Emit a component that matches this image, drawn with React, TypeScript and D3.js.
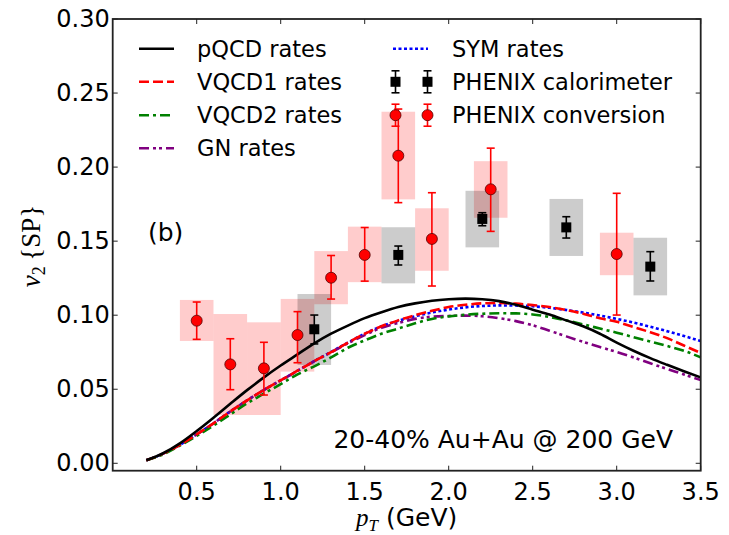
import React from "react";
import * as d3 from "d3";

// ---------- data ----------
const curveX = [0.2, 0.3, 0.4, 0.5, 0.6, 0.7, 0.8, 0.9, 1.0, 1.1, 1.2, 1.3, 1.4, 1.5, 1.6, 1.7, 1.8, 1.9, 2.0, 2.1, 2.2, 2.3, 2.4, 2.5, 2.6, 2.7, 2.8, 2.9, 3.0, 3.1, 3.2, 3.3, 3.4, 3.5];
const pqcd = [0.002, 0.0068, 0.0135, 0.0218, 0.0308, 0.0402, 0.0494, 0.058, 0.066, 0.0735, 0.081, 0.0875, 0.093, 0.098, 0.102, 0.1055, 0.108, 0.1098, 0.1108, 0.1112, 0.1108, 0.1095, 0.107, 0.1037, 0.1005, 0.0965, 0.0925, 0.0875, 0.0815, 0.076, 0.071, 0.0665, 0.0622, 0.058];
const vqcd1 = [0.002, 0.0065, 0.0125, 0.0195, 0.027, 0.035, 0.0425, 0.0495, 0.056, 0.0625, 0.069, 0.075, 0.0815, 0.0875, 0.0925, 0.0965, 0.1, 0.103, 0.1055, 0.107, 0.108, 0.1083, 0.1078, 0.1068, 0.1055, 0.1035, 0.101, 0.098, 0.0955, 0.092, 0.0885, 0.0845, 0.0795, 0.0745];
const vqcd2 = [0.002, 0.006, 0.012, 0.0185, 0.0255, 0.033, 0.0405, 0.047, 0.0535, 0.06, 0.0655, 0.0715, 0.078, 0.083, 0.0875, 0.091, 0.0945, 0.0975, 0.0992, 0.1003, 0.101, 0.1013, 0.1012, 0.1005, 0.0988, 0.0965, 0.0938, 0.091, 0.0882, 0.0852, 0.0822, 0.0792, 0.076, 0.0715];
const gn = [0.002, 0.0065, 0.0125, 0.0195, 0.027, 0.035, 0.0425, 0.0495, 0.056, 0.0625, 0.069, 0.075, 0.081, 0.0865, 0.0915, 0.0948, 0.0975, 0.099, 0.0995, 0.0997, 0.0993, 0.098, 0.096, 0.0932, 0.0895, 0.0857, 0.082, 0.0785, 0.0752, 0.0715, 0.0675, 0.0637, 0.06, 0.0562];
const sym = [0.002, 0.0065, 0.0125, 0.0195, 0.027, 0.035, 0.0425, 0.0495, 0.056, 0.0625, 0.069, 0.0752, 0.0815, 0.0875, 0.0925, 0.0962, 0.0993, 0.1018, 0.1038, 0.1053, 0.1062, 0.1066, 0.1065, 0.106, 0.105, 0.1035, 0.1018, 0.0998, 0.0975, 0.095, 0.0922, 0.0892, 0.086, 0.0825];

const convX = [0.5, 0.7, 0.9, 1.1, 1.3, 1.5, 1.7, 1.9, 2.25, 3.0];
const convY = [0.0963, 0.0668, 0.0641, 0.0866, 0.1253, 0.1407, 0.2077, 0.1515, 0.185, 0.1413];
const convErrLo = [0.0837, 0.0497, 0.0461, 0.0679, 0.1109, 0.123, 0.176, 0.1197, 0.1566, 0.1001];
const convErrHi = [0.1089, 0.0841, 0.0817, 0.1024, 0.1403, 0.1592, 0.2392, 0.1827, 0.2128, 0.1823];
const convSysLo = [0.0826, 0.0326, 0.0326, 0.0619, 0.1074, 0.1223, 0.1782, 0.13, 0.1658, 0.127];
const convSysHi = [0.1103, 0.1008, 0.0952, 0.111, 0.1433, 0.1598, 0.2374, 0.1722, 0.204, 0.1557];

const calX = [1.2, 1.7, 2.2, 2.7, 3.2];
const calY = [0.0905, 0.1407, 0.165, 0.1593, 0.1328];
const calErrLo = [0.0806, 0.1339, 0.1604, 0.1521, 0.1231];
const calErrHi = [0.1001, 0.1467, 0.1692, 0.1665, 0.1429];
const calSysLo = [0.0664, 0.1215, 0.1458, 0.14, 0.1134];
const calSysHi = [0.1143, 0.1594, 0.184, 0.1785, 0.1523];

const xTicks = [0.5, 1.0, 1.5, 2.0, 2.5, 3.0, 3.5];
const yTicks = [0.0, 0.05, 0.1, 0.15, 0.2, 0.25, 0.3];

const curveNames = ["pQCD rates", "VQCD1 rates", "VQCD2 rates", "GN rates", "SYM rates"];
const curveColors = ["#000000", "#ff0000", "#008000", "#800080", "#0000ff"];
const curveDash = ["", "10,4", "10,4,3,4", "10,4,3,3,3,4", "3,2.5"];
const curveData = [pqcd, vqcd1, vqcd2, gn, sym];

const SYS_HALF = 0.1;

// ---------- layout ----------
const W = 729, H = 535;
const L = 112.7, R = 700.7, T = 19, B = 470.7;
const FONT = "DejaVu Sans, Verdana, sans-serif";
const SERIF = "Liberation Serif, DejaVu Serif, serif";

export default function App() {
  const x = d3.scaleLinear().domain([0, 3.5]).range([L, R]);
  const y = d3.scaleLinear().domain([-0.005, 0.3]).range([B, T]);

  const line = d3
    .line<number>()
    .x((_, i) => x(curveX[i]))
    .y((d) => y(d))
    .curve(d3.curveMonotoneX);

  const cap = 4;

  const errbar = (xv: number, lo: number, hi: number, color: string, key: string) => (
    <g key={key} stroke={color} strokeWidth={1.6}>
      <line x1={x(xv)} x2={x(xv)} y1={y(lo)} y2={y(hi)} />
      <line x1={x(xv) - cap} x2={x(xv) + cap} y1={y(lo)} y2={y(lo)} />
      <line x1={x(xv) - cap} x2={x(xv) + cap} y1={y(hi)} y2={y(hi)} />
    </g>
  );

  // legend positions
  const rowY = [48.7, 81.8, 115.2, 148.2];
  const legFont = 22.5;

  const legendLine = (i: number, lx: number, ly: number) => (
    <line
      x1={lx}
      x2={lx + 35}
      y1={ly}
      y2={ly}
      stroke={curveColors[i]}
      strokeWidth={2.6}
      strokeDasharray={curveDash[i] || undefined}
    />
  );

  const legMarkX = [395.5, 427.5];

  return (
    <svg width={W} height={H} style={{ position: "absolute", left: 0, top: 0, background: "#fff" }}>
      {/* systematic boxes */}
      {convX.map((xv, i) => (
        <rect
          key={"cb" + i}
          x={x(xv - SYS_HALF)}
          width={x(xv + SYS_HALF) - x(xv - SYS_HALF)}
          y={y(convSysHi[i])}
          height={y(convSysLo[i]) - y(convSysHi[i])}
          fill="#ff0000"
          fillOpacity={0.2}
        />
      ))}
      {calX.map((xv, i) => (
        <rect
          key={"kb" + i}
          x={x(xv - SYS_HALF)}
          width={x(xv + SYS_HALF) - x(xv - SYS_HALF)}
          y={y(calSysHi[i])}
          height={y(calSysLo[i]) - y(calSysHi[i])}
          fill="#000000"
          fillOpacity={0.2}
        />
      ))}

      {/* curves */}
      {[4, 3, 2, 1, 0].map((i) => (
        <path
          key={"c" + i}
          d={line(curveData[i]) || ""}
          fill="none"
          stroke={curveColors[i]}
          strokeWidth={2.6}
          strokeDasharray={curveDash[i] || undefined}
        />
      ))}

      {/* calorimeter points */}
      {calX.map((xv, i) => errbar(xv, calErrLo[i], calErrHi[i], "#000", "ke" + i))}
      {calX.map((xv, i) => (
        <rect key={"km" + i} x={x(xv) - 5} y={y(calY[i]) - 5} width={10} height={10} fill="#000" />
      ))}

      {/* conversion points */}
      {convX.map((xv, i) => errbar(xv, convErrLo[i], convErrHi[i], "#ff0000", "ce" + i))}
      {convX.map((xv, i) => (
        <circle key={"cm" + i} cx={x(xv)} cy={y(convY[i])} r={5.5} fill="#ff0000" stroke="#550000" strokeWidth={0.8} />
      ))}

      {/* frame */}
      <rect x={L} y={T} width={R - L} height={B - T} fill="none" stroke="#222" strokeWidth={1.8} />

      {/* ticks */}
      {xTicks.map((t) => (
        <g key={"xt" + t}>
          <line x1={x(t)} x2={x(t)} y1={B} y2={B - 5} stroke="#222" strokeWidth={1} />
          <line x1={x(t)} x2={x(t)} y1={T} y2={T + 5} stroke="#222" strokeWidth={1} />
          <text x={x(t)} y={B + 21} fontSize={24} fontFamily={FONT} textAnchor="middle" dominantBaseline="central" fill="#000">
            {t.toFixed(1)}
          </text>
        </g>
      ))}
      {yTicks.map((t) => (
        <g key={"yt" + t}>
          <line x1={L} x2={L + 5} y1={y(t)} y2={y(t)} stroke="#222" strokeWidth={1} />
          <line x1={R} x2={R - 5} y1={y(t)} y2={y(t)} stroke="#222" strokeWidth={1} />
          <text x={L - 3} y={y(t)} fontSize={24} fontFamily={FONT} textAnchor="end" dominantBaseline="central" fill="#000">
            {t.toFixed(2)}
          </text>
        </g>
      ))}

      {/* axis labels */}
      <text x={(L + R) / 2} y={526} textAnchor="middle" fontSize={25} fill="#000">
        <tspan fontFamily={SERIF} fontStyle="italic">p</tspan>
        <tspan fontFamily={SERIF} fontStyle="italic" fontSize={17} dy={5}>T</tspan>
        <tspan fontFamily={FONT} dy={-5}> (GeV)</tspan>
      </text>
      <g transform="translate(40,246) rotate(-90)">
        <text x={0} y={0} textAnchor="middle" fontSize={27} fontFamily={SERIF} fill="#000">
          <tspan fontStyle="italic">v</tspan>
          <tspan fontSize={18} dy={5}>2</tspan>
          <tspan dy={-5}>{"\u2009{SP}"}</tspan>
        </text>
      </g>

      {/* annotations */}
      <text x={148} y={241} fontSize={25} fontFamily={FONT} fill="#000">(b)</text>
      <text x={673} y={448} fontSize={25} fontFamily={FONT} textAnchor="end" fill="#000">
        20-40% Au+Au @ 200 GeV
      </text>

      {/* legend left column */}
      {[0, 1, 2, 3].map((i, k) => (
        <g key={"lg" + i}>
          {legendLine(i, 139, rowY[k])}
          <text x={197} y={rowY[k]} fontSize={legFont} fontFamily={FONT} dominantBaseline="central" fill="#000">
            {curveNames[i]}
          </text>
        </g>
      ))}
      {/* legend right column */}
      <g>
        {legendLine(4, 393, rowY[0])}
        <text x={452} y={rowY[0]} fontSize={legFont} fontFamily={FONT} dominantBaseline="central" fill="#000">
          {curveNames[4]}
        </text>
      </g>
      <g>
        {legMarkX.map((mx, j) => (
          <g key={"lk" + j} stroke="#000" strokeWidth={1.6}>
            <line x1={mx} x2={mx} y1={rowY[1] - 11} y2={rowY[1] + 11} />
            <line x1={mx - cap} x2={mx + cap} y1={rowY[1] - 11} y2={rowY[1] - 11} />
            <line x1={mx - cap} x2={mx + cap} y1={rowY[1] + 11} y2={rowY[1] + 11} />
            <rect x={mx - 5} y={rowY[1] - 5} width={10} height={10} fill="#000" stroke="none" />
          </g>
        ))}
        <text x={452} y={rowY[1]} fontSize={legFont} fontFamily={FONT} dominantBaseline="central" fill="#000">
          PHENIX calorimeter
        </text>
      </g>
      <g>
        {legMarkX.map((mx, j) => (
          <g key={"lc" + j}>
            <g stroke="#ff0000" strokeWidth={1.6}>
              <line x1={mx} x2={mx} y1={rowY[2] - 11} y2={rowY[2] + 11} />
              <line x1={mx - cap} x2={mx + cap} y1={rowY[2] - 11} y2={rowY[2] - 11} />
              <line x1={mx - cap} x2={mx + cap} y1={rowY[2] + 11} y2={rowY[2] + 11} />
            </g>
            <circle cx={mx} cy={rowY[2]} r={5.5} fill="#ff0000" stroke="#550000" strokeWidth={0.8} />
          </g>
        ))}
        <text x={452} y={rowY[2]} fontSize={legFont} fontFamily={FONT} dominantBaseline="central" fill="#000">
          PHENIX conversion
        </text>
      </g>
    </svg>
  );
}
